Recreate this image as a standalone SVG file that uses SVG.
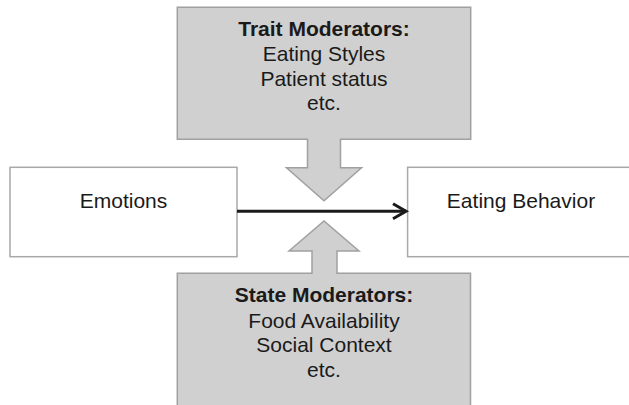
<svg xmlns="http://www.w3.org/2000/svg" width="629" height="405" viewBox="0 0 629 405">
<defs>
<style>
.box{fill:#ffffff;stroke:#a8a8a8;stroke-width:1.5}
.mod{fill:#d0d0d0;stroke:#a0a0a0;stroke-width:1.5;stroke-linejoin:miter}
text{font-family:"Liberation Sans",Arial,sans-serif;fill:#1a1a1a;text-anchor:middle}
.t{font-size:21px}
.b{font-size:21px;font-weight:bold}
.conn{stroke:#1a1a1a;stroke-width:3;fill:none}
</style>
<marker id="open" markerUnits="userSpaceOnUse" markerWidth="20" markerHeight="22" refX="15" refY="8" orient="auto" viewBox="0 0 20 16">
<polyline points="2,0.5 15,8 2,15.5" fill="none" stroke="#1a1a1a" stroke-width="3"/>
</marker>
</defs>
<rect width="629" height="405" fill="#ffffff"/>
<g id="emotions">
<rect class="box" x="10" y="167.3" width="227" height="89.4"/>
<text class="t" x="123.5" y="207.7">Emotions</text>
</g>
<g id="eating-behavior">
<rect class="box" x="407.6" y="167.3" width="230" height="89.4"/>
<text class="t" x="521" y="207.7">Eating Behavior</text>
</g>
<g id="trait-moderators">
<path class="mod" d="M177.3,7.3 H470.7 V139.3 H340.5 V167.7 H361.5 L324,200.7 L286.5,167.7 H307.5 V139.3 H177.3 Z"/>
<text class="b" x="324" y="36">Trait Moderators:</text>
<text class="t" x="324" y="61">Eating Styles</text>
<text class="t" x="324" y="85.5">Patient status</text>
<text class="t" x="324" y="110">etc.</text>
</g>
<g id="state-moderators">
<path class="mod" d="M177.3,412 V273.3 H312 V251 H289 L324,221 L359,251 H337 V273.3 H470.5 V412 Z"/>
<text class="b" x="324" y="301.5">State Moderators:</text>
<text class="t" x="324" y="327.5">Food Availability</text>
<text class="t" x="324" y="352">Social Context</text>
<text class="t" x="324" y="377">etc.</text>
</g>
<g id="connectors">
<line class="conn" x1="237" y1="211.3" x2="406" y2="211.3" marker-end="url(#open)"/>
</g>
</svg>
